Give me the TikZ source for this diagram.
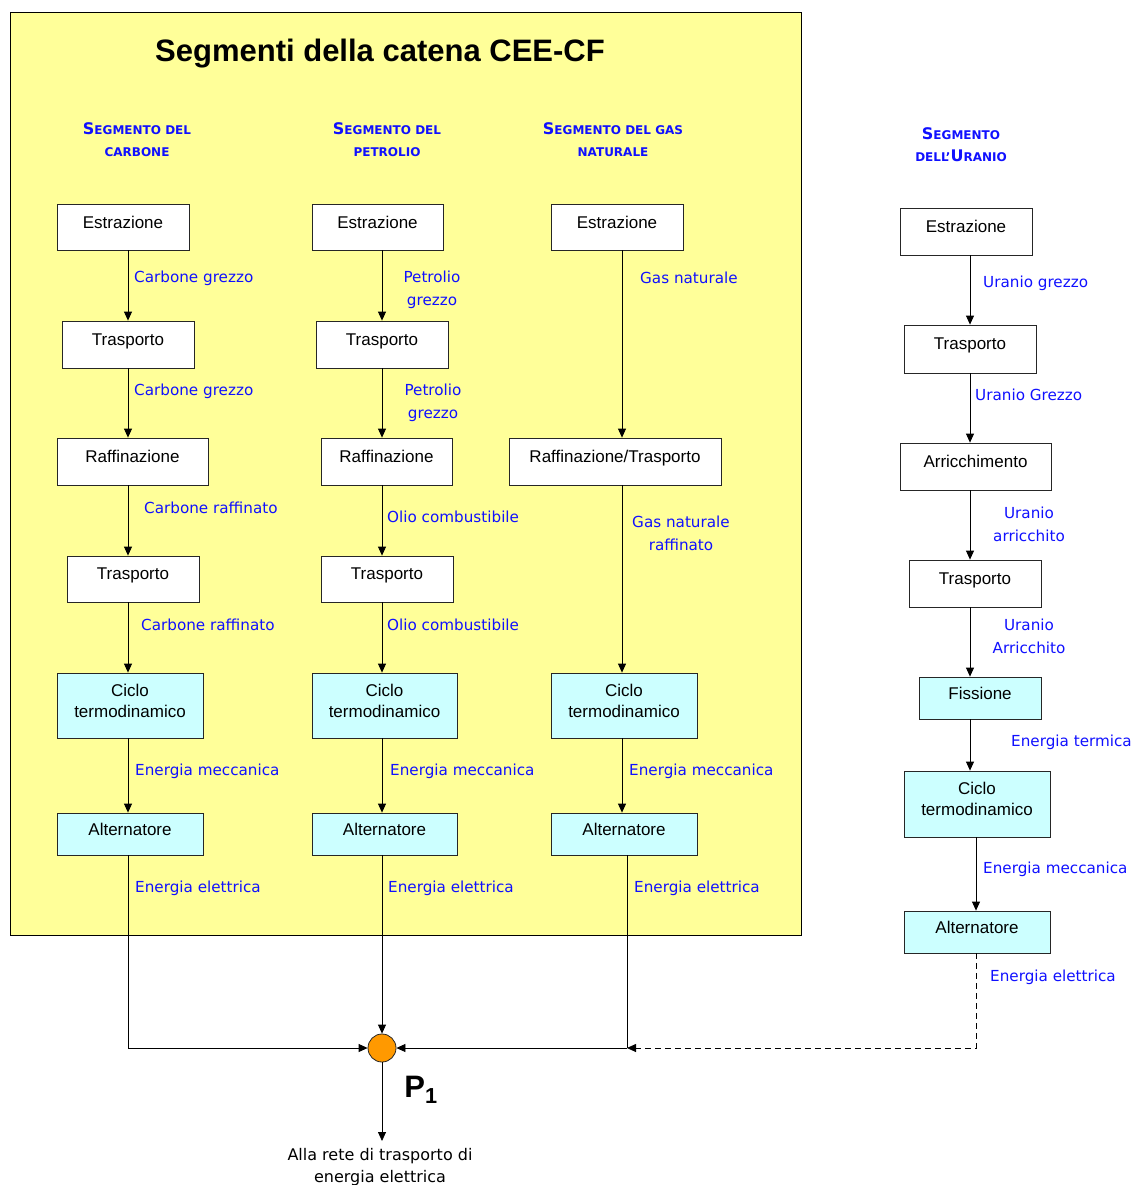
\documentclass[tikz,border=0pt]{standalone}
\usepackage{fontspec}
\usetikzlibrary{arrows.meta}
\newfontfamily\boxfamily{Liberation Sans}
\newfontfamily\lblfamily{DejaVu Sans}
\definecolor{panelyellow}{HTML}{FFFF99}
\definecolor{stagecyan}{HTML}{CCFFFF}
\definecolor{lblblue}{HTML}{1010FF}
\definecolor{joinorange}{HTML}{FF9900}
% fake small caps for the segment headings
\newcommand\hcap[2]{{\fontsize{16}{22}\selectfont #1}{\fontsize{12}{22}\selectfont #2}}
\begin{document}
\begin{tikzpicture}[x=1pt,y=-1pt,
  stagebox/.style={draw=black!85, line width=0.8pt, fill=white, align=center,
    font=\boxfamily\fontsize{17}{21}\selectfont, inner sep=0pt, text depth=10pt},
  hotbox/.style={stagebox, fill=stagecyan},
  flow/.style={font=\lblfamily\fontsize{15.2}{23}\selectfont, text=lblblue, inner sep=0pt},
  head/.style={font=\lblfamily\bfseries\fontsize{12}{22}\selectfont, text=lblblue, align=center, inner sep=0pt},
  arr/.style={line width=0.8pt, -{Triangle[length=9pt,width=8pt]}},
]
\useasboundingbox (0,0) rectangle (1136,1185);
% panel of the fossil-fuel chains
\draw[fill=panelyellow, line width=0.8pt] (10,12) rectangle (801,935);
\node[font=\boxfamily\bfseries\fontsize{31}{34}\selectfont, inner sep=0pt] (title) at (380,54) {Segmenti della catena CEE-CF};

% headings
\node[head] (h1) at (137,140) {\hcap{S}{EGMENTO DEL}\\\hcap{}{CARBONE}};
\node[head] (h2) at (387,140) {\hcap{S}{EGMENTO DEL}\\\hcap{}{PETROLIO}};
\node[head] (h3) at (613,140) {\hcap{S}{EGMENTO DEL GAS}\\\hcap{}{NATURALE}};
\node[head] (h4) at (961,145) {\hcap{S}{EGMENTO}\\\hcap{}{DELL’}\hcap{U}{RANIO}};

% vertical guide lines of the chains
\coordinate (x1) at (128,0);
\coordinate (x2) at (382,0);
\coordinate (x3) at (622,0);
\coordinate (x3b) at (627,0);
\coordinate (x4) at (970,0);
\coordinate (x4b) at (976,0);

% coal chain
\node[stagebox, minimum width=132, minimum height=46] (c1e) at (123,227) {Estrazione};
\node[stagebox, minimum width=132, minimum height=47] (c1t) at (128,344.5) {Trasporto};
\node[stagebox, minimum width=151, minimum height=47] (c1r) at (132.5,461.5) {Raffinazione};
\node[stagebox, minimum width=132, minimum height=46] (c1u) at (133,579) {Trasporto};
\node[hotbox, minimum width=146, minimum height=65] (c1c) at (130,705.5) {Ciclo\\termodinamico};
\node[hotbox, minimum width=146, minimum height=42] (c1a) at (130,834) {Alternatore};
\draw[arr] (c1e.south -| x1) -- (c1t.north -| x1);
\draw[arr] (c1t.south -| x1) -- (c1r.north -| x1);
\draw[arr] (c1r.south -| x1) -- (c1u.north -| x1);
\draw[arr] (c1u.south -| x1) -- (c1c.north -| x1);
\draw[arr] (c1c.south -| x1) -- (c1a.north -| x1);
\node[flow, anchor=west] (l1a) at (134,278) {Carbone grezzo};
\node[flow, anchor=west] (l1b) at (134,391) {Carbone grezzo};
\node[flow, anchor=west] (l1c) at (144,508) {Carbone raffinato};
\node[flow, anchor=west] (l1d) at (141,625) {Carbone raffinato};
\node[flow, anchor=west] (l1e) at (135,771) {Energia meccanica};
\node[flow, anchor=west] (l1f) at (135,888) {Energia elettrica};

% oil chain
\node[stagebox, minimum width=131, minimum height=46] (c2e) at (377.5,227) {Estrazione};
\node[stagebox, minimum width=132, minimum height=47] (c2t) at (382,344.5) {Trasporto};
\node[stagebox, minimum width=131, minimum height=47] (c2r) at (386.5,461.5) {Raffinazione};
\node[stagebox, minimum width=132, minimum height=46] (c2u) at (387,579) {Trasporto};
\node[hotbox, minimum width=145, minimum height=65] (c2c) at (384.5,705.5) {Ciclo\\termodinamico};
\node[hotbox, minimum width=145, minimum height=42] (c2a) at (384.5,834) {Alternatore};
\draw[arr] (c2e.south -| x2) -- (c2t.north -| x2);
\draw[arr] (c2t.south -| x2) -- (c2r.north -| x2);
\draw[arr] (c2r.south -| x2) -- (c2u.north -| x2);
\draw[arr] (c2u.south -| x2) -- (c2c.north -| x2);
\draw[arr] (c2c.south -| x2) -- (c2a.north -| x2);
\node[flow, align=center] (l2a) at (432,290) {Petrolio\\grezzo};
\node[flow, align=center] (l2b) at (433,403) {Petrolio\\grezzo};
\node[flow, anchor=west] (l2c) at (387,517) {Olio combustibile};
\node[flow, anchor=west] (l2d) at (387,625) {Olio combustibile};
\node[flow, anchor=west] (l2e) at (390,771) {Energia meccanica};
\node[flow, anchor=west] (l2f) at (388,888) {Energia elettrica};

% natural gas chain
\node[stagebox, minimum width=132, minimum height=46] (c3e) at (617,227) {Estrazione};
\node[stagebox, minimum width=212, minimum height=47] (c3r) at (615,461.5) {Raffinazione/Trasporto};
\node[hotbox, minimum width=146, minimum height=65] (c3c) at (624,705.5) {Ciclo\\termodinamico};
\node[hotbox, minimum width=146, minimum height=42] (c3a) at (624,834) {Alternatore};
\draw[arr] (c3e.south -| x3) -- (c3r.north -| x3);
\draw[arr] (c3r.south -| x3) -- (c3c.north -| x3);
\draw[arr] (c3c.south -| x3) -- (c3a.north -| x3);
\node[flow, anchor=west] (l3a) at (640,278) {Gas naturale};
\node[flow, align=center] (l3b) at (681,533.5) {Gas naturale\\raffinato};
\node[flow, anchor=west] (l3c) at (629,771) {Energia meccanica};
\node[flow, anchor=west] (l3d) at (634,888) {Energia elettrica};

% uranium chain
\node[stagebox, minimum width=132, minimum height=47] (c4e) at (966,231.5) {Estrazione};
\node[stagebox, minimum width=132, minimum height=48] (c4t) at (970,349) {Trasporto};
\node[stagebox, minimum width=151, minimum height=47] (c4r) at (975.5,466.5) {Arricchimento};
\node[stagebox, minimum width=132, minimum height=47] (c4u) at (975,583.5) {Trasporto};
\node[hotbox, minimum width=122, minimum height=42] (c4f) at (980,698) {Fissione};
\node[hotbox, minimum width=146, minimum height=66] (c4c) at (977,804) {Ciclo\\termodinamico};
\node[hotbox, minimum width=146, minimum height=42] (c4a) at (977,932) {Alternatore};
\draw[arr] (c4e.south -| x4) -- (c4t.north -| x4);
\draw[arr] (c4t.south -| x4) -- (c4r.north -| x4);
\draw[arr] (c4r.south -| x4) -- (c4u.north -| x4);
\draw[arr] (c4u.south -| x4) -- (c4f.north -| x4);
\draw[arr] (c4f.south -| x4) -- (c4c.north -| x4);
\draw[arr] (c4c.south -| x4b) -- (c4a.north -| x4b);
\node[flow, anchor=west] (l4a) at (983,283) {Uranio grezzo};
\node[flow, anchor=west] (l4b) at (975,395) {Uranio Grezzo};
\node[flow, align=center] (l4c) at (1029,524.5) {Uranio\\arricchito};
\node[flow, align=center] (l4d) at (1029,636.5) {Uranio\\Arricchito};
\node[flow, anchor=west] (l4e) at (1011,742) {Energia termica};
\node[flow, anchor=west] (l4f) at (983,869) {Energia meccanica};
\node[flow, anchor=west] (l4g) at (990,977) {Energia elettrica};

% collection point P1
\node[circle, draw=black!85, line width=0.8pt, fill=joinorange, minimum size=28, inner sep=0pt] (p1) at (382,1048) {};
\coordinate (gasjoin) at (627,1048);
\node[font=\boxfamily\bfseries\fontsize{31}{34}\selectfont, inner sep=0pt] (p1lbl) at (421,1090) {P\textsubscript{1}};
\node[flow, text=black, align=center, anchor=north, font=\lblfamily\fontsize{16}{22}\selectfont] (grid) at (380,1148) {Alla rete di trasporto di\\energia elettrica};

\draw[arr] (c1a.south -| x1) |- (p1.west);
\draw[arr] (c2a.south -| x2) -- (p1.north);
\draw[line width=0.8pt] (c3a.south -| x3b) -- (gasjoin);
\draw[arr] (gasjoin) -- (p1.east);
\draw[arr, dash pattern=on 6pt off 4pt] (c4a.south -| x4b) |- (gasjoin);
\draw[arr] (p1.south) -- ([yshift=7pt]p1.south |- grid.north);
\end{tikzpicture}
\end{document}
